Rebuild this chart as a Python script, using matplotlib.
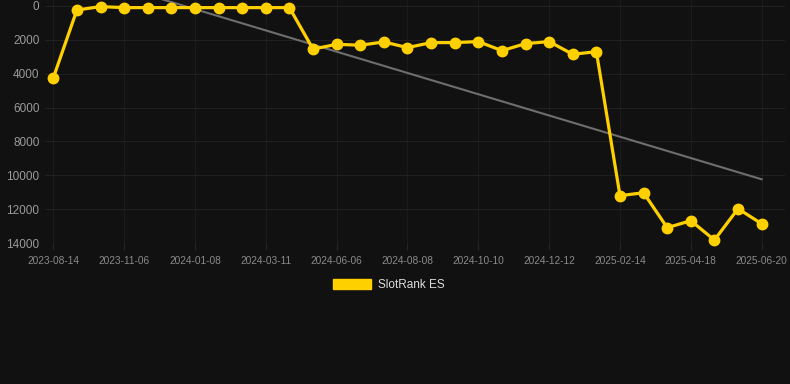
import matplotlib
matplotlib.use("Agg")
import matplotlib.pyplot as plt
import numpy as np
from matplotlib.patches import Patch

tick_labels = ["2023-08-14", "2023-11-06", "2024-01-08", "2024-03-11", "2024-06-06",
               "2024-08-08", "2024-10-10", "2024-12-12", "2025-02-14", "2025-04-18",
               "2025-06-20"]
ranks = [4250, 240, 40, 100, 100, 100, 100, 100, 100, 100, 100,
         2550, 2265, 2320, 2125, 2460, 2165, 2165, 2105, 2640, 2225,
         2105, 2855, 2700, 11200, 11030, 13090, 12680, 13820, 11970, 12860]
series_name = "SlotRank ES"

bg = "#111111"
gold = "#FFD000"

fig = plt.figure(figsize=(7.9, 3.84), dpi=100, facecolor=bg)
ax = fig.add_axes([0.057, 0.367, 0.937, 0.633], facecolor=bg)

x = np.arange(len(ranks))
coef = np.polyfit(x, ranks, 1)
ax.plot(x, np.polyval(coef, x), color="#6e6e6e", lw=1.5, zorder=2)
ax.plot(x, ranks, color=gold, lw=2.3, marker="o", ms=7.5, zorder=3, clip_on=False)

ax.set_xlim(-0.35, 31.0)
ax.set_ylim(14000, -350)
ax.set_yticks(np.arange(0, 14001, 2000))
ax.set_xticks(x[::3])
ax.set_xticklabels(tick_labels)

for s in ax.spines.values():
    s.set_visible(False)
ax.grid(True, axis="y", color="#202020", lw=0.8)
ax.grid(True, axis="x", color="#1b1b1b", lw=0.8)
ax.set_axisbelow(True)
ax.tick_params(axis="x", colors="#262626", length=5, labelcolor="#8a8a8a",
               labelsize=7.3, pad=4)
ax.tick_params(axis="y", length=0, labelcolor="#9a9a9a", labelsize=8.5, pad=4)
for lab in ax.get_xticklabels() + ax.get_yticklabels():
    lab.set_family("Liberation Sans")

handle = Patch(facecolor=gold, edgecolor=gold)
leg = fig.legend([handle], [series_name], loc="center", bbox_to_anchor=(0.492, 0.258),
                 frameon=False, handlelength=3.2, handleheight=0.9, handletextpad=0.6,
                 prop={"family": "Liberation Sans", "size": 8.5})
for t in leg.get_texts():
    t.set_color("#dddddd")

fig.savefig("out.png", dpi=100, facecolor=bg)
